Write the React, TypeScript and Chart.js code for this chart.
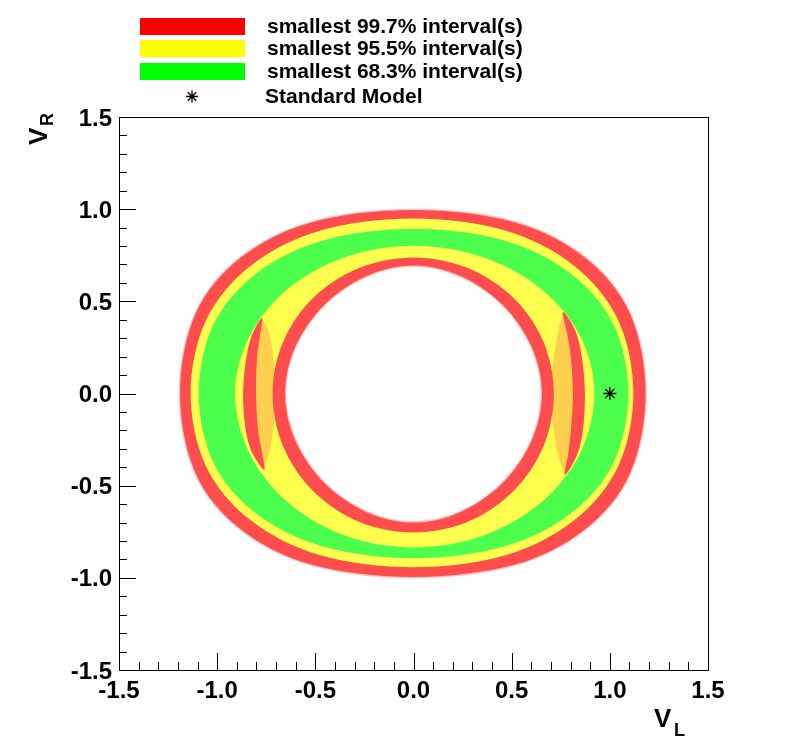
import React, { useEffect, useRef } from "react";
import { Chart, registerables } from "chart.js";

Chart.register(...registerables);

// ---------------- data ----------------
const X_TICKS = [-1.5, -1.0, -0.5, 0.0, 0.5, 1.0, 1.5];
const Y_TICKS = [-1.5, -1.0, -0.5, 0.0, 0.5, 1.0, 1.5];
const X_TICK_LABELS = ["-1.5", "-1.0", "-0.5", "0.0", "0.5", "1.0", "1.5"];
const Y_TICK_LABELS = ["-1.5", "-1.0", "-0.5", "0.0", "0.5", "1.0", "1.5"];
const MINOR_PER_MAJOR = 5;

const LEGEND_LABELS = [
  "smallest 99.7% interval(s)",
  "smallest 95.5% interval(s)",
  "smallest 68.3% interval(s)",
  "Standard Model",
];

// contour boundaries (V_L, V_R)
const RED_OUTER: number[][] = [
  [1.182, 0], [1.103, 0.432], [0.874, 0.736], [0.513, 0.929], [0, 0.995],
  [-0.516, 0.929], [-0.88, 0.736], [-1.11, 0.432], [-1.189, 0],
  [-1.11, -0.432], [-0.88, -0.736], [-0.516, -0.929], [0, -0.995],
  [0.513, -0.929], [0.874, -0.736], [1.103, -0.432],
];
const YELLOW_OUTER: number[][] = [
  [1.12, 0], [1.043, 0.397], [0.818, 0.693], [0.468, 0.884], [0, 0.949],
  [-0.474, 0.884], [-0.829, 0.693], [-1.057, 0.397], [-1.135, 0],
  [-1.057, -0.394], [-0.829, -0.688], [-0.474, -0.878], [0, -0.943],
  [0.468, -0.878], [0.818, -0.688], [1.043, -0.394],
];
const GREEN_OUTER: number[][] = [
  [1.094, 0], [1.019, 0.374], [0.799, 0.653], [0.457, 0.832], [0, 0.894],
  [-0.457, 0.832], [-0.799, 0.653], [-1.019, 0.374], [-1.094, 0],
  [-1.019, -0.374], [-0.799, -0.653], [-0.457, -0.832], [0, -0.894],
  [0.457, -0.832], [0.799, -0.653], [1.019, -0.374],
];
const GREEN_INNER: number[][] = [
  [0.921, 0], [0.851, 0.307], [0.651, 0.567], [0.353, 0.741], [0, 0.802],
  [-0.347, 0.741], [-0.641, 0.567], [-0.837, 0.307], [-0.909, 0],
  [-0.837, -0.32], [-0.641, -0.59], [-0.347, -0.772], [0, -0.835],
  [0.353, -0.772], [0.651, -0.59], [0.851, -0.32],
];
const CRESCENT_LEFT: number[][] = [
  [-0.775, 0.4], [-0.8, 0.25], [-0.81, 0], [-0.8, -0.25], [-0.77, -0.4],
  [-0.73, -0.3], [-0.7, 0], [-0.73, 0.3],
];
const CRESCENT_RIGHT: number[][] = [
  [0.77, 0.42], [0.81, 0.25], [0.815, 0], [0.805, -0.25], [0.775, -0.42],
  [0.73, -0.3], [0.7, 0], [0.73, 0.3],
];
const ISLAND_LEFT: number[][] = [
  [-0.772, 0.41], [-0.823, 0.317], [-0.853, 0.182], [-0.868, 0],
  [-0.858, -0.171], [-0.828, -0.307], [-0.761, -0.415], [-0.772, -0.317],
  [-0.792, -0.198], [-0.802, 0], [-0.797, 0.193], [-0.782, 0.312],
];
const ISLAND_RIGHT: number[][] = [
  [0.761, 0.442], [0.823, 0.344], [0.858, 0.193], [0.873, 0],
  [0.863, -0.198], [0.833, -0.334], [0.772, -0.442], [0.787, -0.334],
  [0.802, -0.198], [0.812, 0], [0.802, 0.193], [0.782, 0.328],
];
const YELLOW_INNER: number[][] = [
  [0.715, 0], [0.661, 0.283], [0.506, 0.522], [0.274, 0.682], [0, 0.738],
  [-0.275, 0.682], [-0.508, 0.522], [-0.663, 0.283], [-0.718, 0],
  [-0.663, -0.289], [-0.508, -0.533], [-0.275, -0.697], [0, -0.754],
  [0.274, -0.697], [0.506, -0.533], [0.661, -0.289],
];
const HOLE: number[][] = [
  [0.654, 0], [0.602, 0.253], [0.454, 0.482], [0.238, 0.638], [0, 0.694],
  [-0.238, 0.638], [-0.454, 0.482], [-0.602, 0.253], [-0.654, 0],
  [-0.602, -0.255], [-0.454, -0.486], [-0.238, -0.644], [0, -0.7],
  [0.238, -0.644], [0.454, -0.486], [0.602, -0.255],
];
const SM_POINT = [{ x: 1.0, y: 0.0 }];

// ---------------- styles / layout ----------------
const C_RED = "#ff4d4d";
const C_YELLOW = "#ffff4d";
const C_GREEN = "#4dff4d";
const C_CRESCENT = "#ffd04d";
const C_FUZZ = "rgba(255,77,77,0.35)";
const FONT = '"Liberation Sans", Arial, Helvetica, sans-serif';
const W = 787;
const H = 755;
const PLOT = { left: 119, top: 117, right: 708, bottom: 670 };

const regionDataset = (pts: number[][], color: string, edge?: string) => ({
  data: pts.map(([x, y]) => ({ x, y })),
  regionFill: color,
  regionEdge: edge,
  showLine: false,
  pointRadius: 0,
  pointHoverRadius: 0,
});

// closed smooth (Catmull-Rom) outline through the library-positioned points
const ringFill = {
  id: "ringFill",
  beforeDatasetsDraw(chart: any) {
    const ctx: CanvasRenderingContext2D = chart.ctx;
    chart.data.datasets.forEach((ds: any, i: number) => {
      if (!ds.regionFill) return;
      const pts = chart.getDatasetMeta(i).data;
      const n = pts.length;
      if (!n) return;
      ctx.save();
      ctx.beginPath();
      ctx.moveTo(pts[0].x, pts[0].y);
      for (let j = 0; j < n; j++) {
        const p0 = pts[(j - 1 + n) % n];
        const p1 = pts[j];
        const p2 = pts[(j + 1) % n];
        const p3 = pts[(j + 2) % n];
        ctx.bezierCurveTo(
          p1.x + (p2.x - p0.x) / 6,
          p1.y + (p2.y - p0.y) / 6,
          p2.x - (p3.x - p1.x) / 6,
          p2.y - (p3.y - p1.y) / 6,
          p2.x,
          p2.y
        );
      }
      ctx.closePath();
      ctx.fillStyle = ds.regionFill;
      ctx.fill();
      if (ds.regionEdge) {
        ctx.strokeStyle = ds.regionEdge;
        ctx.lineWidth = 2.5;
        ctx.stroke();
      }
      ctx.restore();
    });
  },
};

function drawStar(ctx: CanvasRenderingContext2D, x: number, y: number, r: number) {
  ctx.save();
  ctx.strokeStyle = "#000";
  ctx.lineWidth = 1.3;
  ctx.beginPath();
  for (let k = 0; k < 4; k++) {
    const a = (k * Math.PI) / 4;
    ctx.moveTo(x - r * Math.cos(a), y - r * Math.sin(a));
    ctx.lineTo(x + r * Math.cos(a), y + r * Math.sin(a));
  }
  ctx.stroke();
  ctx.fillStyle = "#000";
  ctx.beginPath();
  ctx.arc(x, y, 1.8, 0, Math.PI * 2);
  ctx.fill();
  ctx.restore();
}

const rootAxes = {
  id: "rootAxes",
  afterDraw(chart: any) {
    const ctx: CanvasRenderingContext2D = chart.ctx;
    const a = chart.chartArea;
    const xs = chart.scales.x;
    const ys = chart.scales.y;
    ctx.save();

    // Standard Model marker (position from the library's scales)
    const sm = chart.getDatasetMeta(chart.data.datasets.length - 1).data[0];
    if (sm) drawStar(ctx, sm.x, sm.y, 6.5);

    ctx.strokeStyle = "#000";
    ctx.lineWidth = 1;
    ctx.strokeRect(a.left + 0.5, a.top + 0.5, a.right - a.left, a.bottom - a.top);

    // ticks
    ctx.beginPath();
    const xMin = X_TICKS[0], xMax = X_TICKS[X_TICKS.length - 1];
    const xStep = (X_TICKS[1] - X_TICKS[0]) / MINOR_PER_MAJOR;
    const nx = Math.round((xMax - xMin) / xStep);
    for (let i = 0; i <= nx; i++) {
      const v = xMin + i * xStep;
      const px = Math.round(xs.getPixelForValue(v)) + 0.5;
      const len = i % MINOR_PER_MAJOR === 0 ? 17 : 8;
      ctx.moveTo(px, a.bottom);
      ctx.lineTo(px, a.bottom - len);
    }
    const yMin = Y_TICKS[0], yMax = Y_TICKS[Y_TICKS.length - 1];
    const yStep = (Y_TICKS[1] - Y_TICKS[0]) / MINOR_PER_MAJOR;
    const ny = Math.round((yMax - yMin) / yStep);
    for (let i = 0; i <= ny; i++) {
      const v = yMin + i * yStep;
      const py = Math.round(ys.getPixelForValue(v)) + 0.5;
      const len = i % MINOR_PER_MAJOR === 0 ? 17 : 8;
      ctx.moveTo(a.left, py);
      ctx.lineTo(a.left + len, py);
    }
    ctx.stroke();

    // tick labels
    ctx.fillStyle = "#000";
    ctx.font = `bold 24px ${FONT}`;
    ctx.textBaseline = "alphabetic";
    ctx.textAlign = "center";
    X_TICKS.forEach((v, i) => {
      ctx.fillText(X_TICK_LABELS[i], xs.getPixelForValue(v), a.bottom + 28);
    });
    ctx.textAlign = "right";
    Y_TICKS.forEach((v, i) => {
      ctx.fillText(Y_TICK_LABELS[i], a.left - 7, ys.getPixelForValue(v) + 8.5);
    });

    // axis titles
    ctx.textAlign = "left";
    ctx.font = `bold 26px ${FONT}`;
    ctx.fillText("V", 654, 727);
    ctx.font = `bold 18px ${FONT}`;
    ctx.fillText("L", 674, 736);

    ctx.save();
    ctx.translate(47, 145);
    ctx.rotate(-Math.PI / 2);
    ctx.font = `bold 26px ${FONT}`;
    ctx.fillText("V", 0, 0);
    ctx.font = `bold 18px ${FONT}`;
    ctx.fillText("R", 19, 6);
    ctx.restore();

    // legend
    const boxes = [
      { c: "#ff0000", y: 18 },
      { c: "#ffff00", y: 40 },
      { c: "#00ff00", y: 63 },
    ];
    boxes.forEach((b, i) => {
      ctx.fillStyle = b.c;
      ctx.fillRect(140, b.y, 105, 17);
      ctx.fillStyle = "#000";
      ctx.font = `bold 21px ${FONT}`;
      ctx.textAlign = "left";
      ctx.fillText(LEGEND_LABELS[i], 267, b.y + 15);
    });
    drawStar(ctx, 192, 96.5, 6);
    ctx.fillStyle = "#000";
    ctx.fillText(LEGEND_LABELS[3], 265, 103);
    ctx.restore();
  },
};

export default function App() {
  const ref = useRef<HTMLCanvasElement>(null);
  useEffect(() => {
    const canvas = ref.current;
    if (!canvas) return;
    const chart = new Chart(canvas, {
      type: "scatter",
      data: {
        datasets: [
          regionDataset(RED_OUTER, C_RED, C_FUZZ),
          regionDataset(YELLOW_OUTER, C_YELLOW),
          regionDataset(GREEN_OUTER, C_GREEN),
          regionDataset(GREEN_INNER, C_YELLOW),
          regionDataset(CRESCENT_LEFT, C_CRESCENT),
          regionDataset(CRESCENT_RIGHT, C_CRESCENT),
          regionDataset(ISLAND_LEFT, C_RED),
          regionDataset(ISLAND_RIGHT, C_RED),
          regionDataset(YELLOW_INNER, C_RED),
          regionDataset(HOLE, "#ffffff", C_FUZZ),
          {
            data: SM_POINT,
            pointRadius: 0,
            pointHoverRadius: 0,
            showLine: false,
          },
        ] as any,
      },
      options: {
        responsive: false,
        animation: false,
        devicePixelRatio: 1,
        events: [],
        layout: {
          padding: {
            left: PLOT.left,
            top: PLOT.top,
            right: W - PLOT.right,
            bottom: H - PLOT.bottom,
          },
        },
        scales: {
          x: { type: "linear", min: -1.5, max: 1.5, display: false },
          y: { type: "linear", min: -1.5, max: 1.5, display: false },
        },
        plugins: { legend: { display: false }, tooltip: { enabled: false } },
      } as any,
      plugins: [ringFill, rootAxes],
    });
    return () => chart.destroy();
  }, []);
  return (
    <div style={{ position: "absolute", left: 0, top: 0, width: W, height: H, background: "#fff" }}>
      <canvas ref={ref} width={W} height={H} style={{ display: "block" }} />
    </div>
  );
}
